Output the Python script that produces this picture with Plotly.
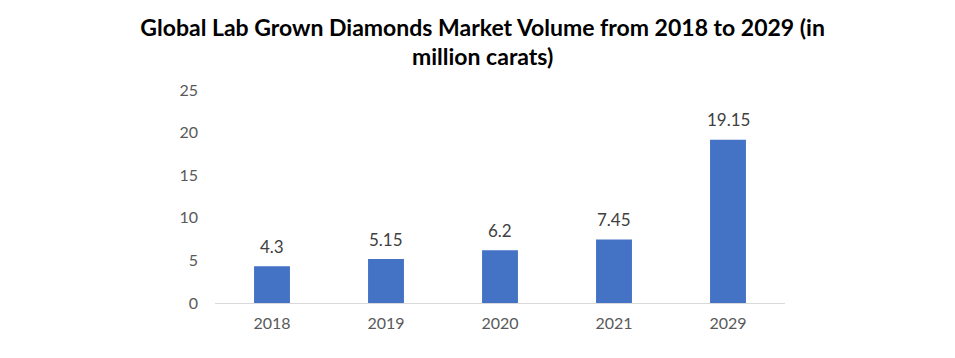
import plotly.graph_objects as go

years = ["2018", "2019", "2020", "2021", "2029"]
volumes = [4.3, 5.15, 6.2, 7.45, 19.15]
value_labels = ["4.3", "5.15", "6.2", "7.45", "19.15"]
y_ticks = [0, 5, 10, 15, 20, 25]

fig = go.Figure(go.Bar(
    x=years, y=volumes,
    marker=dict(color="#4472C4", line=dict(width=0)),
    cliponaxis=False, width=0.315, hoverinfo="x+y",
))

for i, (v, lab) in enumerate(zip(volumes, value_labels)):
    fig.add_annotation(
        x=i, y=v, text=lab, showarrow=False, yanchor="middle", yshift=20,
        font=dict(family="Lato, Liberation Sans, Arial", size=17, color="#404040"),
    )

fig.update_layout(
    width=955, height=358,
    margin=dict(l=207, r=178, t=82, b=63),
    paper_bgcolor="white", plot_bgcolor="white",
    title=dict(
        text="<b>Global Lab Grown Diamonds Market Volume from 2018 to 2029 (in<br>million carats)</b>",
        x=0.497, xanchor="center", yref="container", y=0.923, yanchor="middle",
        font=dict(family="Lato, Liberation Sans, Arial", size=23, color="black"),
    ),
    xaxis=dict(
        type="category", categoryorder="array", categoryarray=years,
        showgrid=False, showline=True, linecolor="#d9d9d9", linewidth=1,
        ticks="", ticklabelstandoff=6,
        tickfont=dict(family="Lato, Liberation Sans, Arial", size=16, color="#595959"),
    ),
    yaxis=dict(
        range=[0, 25], tickvals=y_ticks, showgrid=False, zeroline=False, showline=False,
        ticks="", ticklabelstandoff=16,
        tickfont=dict(family="Lato, Liberation Sans, Arial", size=16, color="#595959"),
    ),
    showlegend=False,
)

fig.write_html("out.html")
